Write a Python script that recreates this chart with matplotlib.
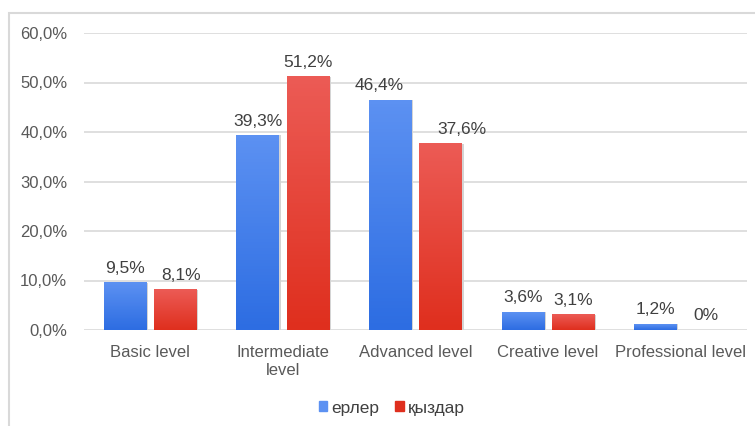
import numpy as np
import matplotlib
matplotlib.use("Agg")
import matplotlib.pyplot as plt
from matplotlib.colors import LinearSegmentedColormap
from matplotlib.patches import Rectangle

plt.rcParams["font.family"] = ["Liberation Sans", "DejaVu Sans"]

categories = ["Basic level", "Intermediate\nlevel", "Advanced level", "Creative level", "Professional level"]
erler = [9.5, 39.3, 46.4, 3.6, 1.2]
qyzdar = [8.1, 51.2, 37.6, 3.1, 0.0]
series_names = ["ерлер", "қыздар"]
yticks = [0, 10, 20, 30, 40, 50, 60]

# top -> bottom shades for the gradient fill
blue_grad = ("#5c91f2", "#2d6de2")
red_grad = ("#ec5b55", "#df2f1e")

# sideways nudges (points) for labels that were dragged off-centre
nudge = {(0, 1): 4, (2, 0): -8, (2, 1): 15}


def pct(v):
    if v == 0:
        return "0%"
    return f"{v:.1f}%".replace(".", ",")


fig = plt.figure(figsize=(7.55, 4.26), dpi=100)
# light frame around the chart
fig.patches.append(Rectangle((8.5 / 755, -0.05), 1.2, 1 - 12.5 / 426 + 0.05,
                             transform=fig.transFigure, fill=False,
                             edgecolor="#d9d9d9", lw=1.5))
ax = fig.add_axes([84 / 755, 1 - 330 / 426, (747 - 84) / 755, (330 - 33) / 426])

x = np.arange(len(categories))
w = 0.32
off = 0.19

for si, (vals, grad, dx) in enumerate([(erler, blue_grad, -off), (qyzdar, red_grad, off)]):
    cmap = LinearSegmentedColormap.from_list("g", [grad[1], grad[0]])
    bars = ax.bar(x + dx, vals, w, color=grad[1], zorder=2, lw=0)
    for ci, (b, v) in enumerate(zip(bars, vals)):
        if v > 0:
            x0 = b.get_x()
            ax.imshow(np.linspace(0, 1, 64).reshape(-1, 1), extent=[x0, x0 + w, 0, v],
                      origin="lower", aspect="auto", cmap=cmap, zorder=3)
            # soft shadow on the right side
            ax.add_patch(Rectangle((x0 + w, 0), 0.012, v, color="#d4d4d4", lw=0, zorder=1.5))
        ax.annotate(pct(v), (b.get_x() + w / 2, v), xytext=(nudge.get((ci, si), 0), 5),
                    textcoords="offset points", ha="center", va="bottom",
                    fontsize=12.5, color="#404040", zorder=4)

ax.set_xlim(-0.5, len(categories) - 0.5)
ax.set_ylim(0, 60)
ax.set_yticks(yticks)
ax.set_yticklabels([f"{t:.1f}%".replace(".", ",") for t in yticks])
ax.set_xticks(x)
ax.set_xticklabels(categories)
ax.tick_params(axis="both", length=0, labelsize=12, labelcolor="#595959")
ax.tick_params(axis="x", pad=11)
ax.tick_params(axis="y", pad=12)
ax.yaxis.grid(True, color="#d9d9d9", lw=1.2, zorder=0)
ax.set_axisbelow(True)
for s in ax.spines.values():
    s.set_visible(False)

handles = [Rectangle((0, 0), 1, 1, color=blue_grad[0]), Rectangle((0, 0), 1, 1, color=red_grad[1])]
fig.legend(handles, series_names, loc="center", bbox_to_anchor=(392 / 755, 1 - 408 / 426),
           ncol=2, frameon=False, fontsize=12.5, handlelength=0.5, handleheight=0.5,
           handletextpad=0.25, columnspacing=0.9, labelcolor="#404040")

fig.savefig("out.png", dpi=100)
